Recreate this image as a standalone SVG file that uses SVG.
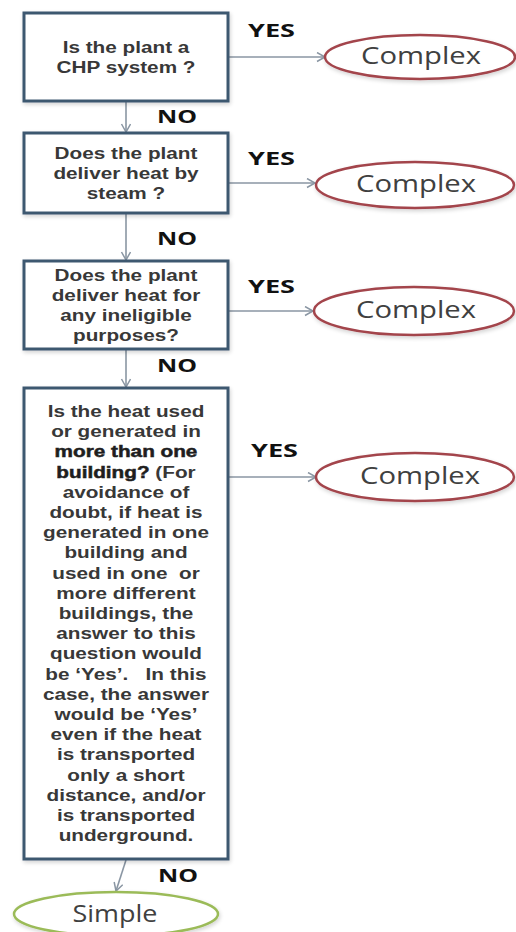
<svg xmlns="http://www.w3.org/2000/svg" width="516" height="932" viewBox="0 0 516 932">
<defs>
<style>
.box{fill:#ffffff;stroke:#3e5870;stroke-width:3}
.cx{fill:#ffffff;stroke:#a3444c;stroke-width:2.5}
.sm{fill:#ffffff;stroke:#9bbb59;stroke-width:2.5}
.q{font-family:"Liberation Sans",Arial,sans-serif;font-weight:700;font-size:17px;fill:#383838;text-anchor:middle}
.qb{fill:#1e1e1e;stroke:#1e1e1e;stroke-width:0.5}
.lbl{font-family:"Open Sans","Liberation Sans",sans-serif;font-weight:700;font-size:18px;fill:#111111}
.term{font-family:"Open Sans","Liberation Sans",sans-serif;font-weight:400;font-size:23px;fill:#404040;text-anchor:middle}
.conn{stroke:#8a96a3;stroke-width:1.6;fill:none}
</style>
<marker id="arr" markerWidth="12" markerHeight="12" refX="9" refY="5" orient="auto" markerUnits="userSpaceOnUse">
<path d="M1,0.5 L9,5 L1,9.5" fill="none" stroke="#8a96a3" stroke-width="1.5"/>
</marker>
<filter id="sh" x="-10%" y="-20%" width="125%" height="150%">
<feGaussianBlur in="SourceAlpha" stdDeviation="2"/>
<feOffset dx="1" dy="2"/>
<feComponentTransfer><feFuncA type="linear" slope="0.18"/></feComponentTransfer>
<feMerge><feMergeNode/><feMergeNode in="SourceGraphic"/></feMerge>
</filter>
</defs>
<rect width="516" height="932" fill="#ffffff"/>

<g id="connectors">
<line class="conn" x1="126" y1="102" x2="126" y2="132" marker-end="url(#arr)"/>
<line class="conn" x1="126" y1="214" x2="126" y2="260" marker-end="url(#arr)"/>
<line class="conn" x1="126" y1="350" x2="126" y2="387" marker-end="url(#arr)"/>
<line class="conn" x1="126" y1="860" x2="116" y2="891" marker-end="url(#arr)"/>
<line class="conn" x1="229" y1="57" x2="325" y2="57" marker-end="url(#arr)"/>
<line class="conn" x1="229" y1="183" x2="315" y2="183" marker-end="url(#arr)"/>
<line class="conn" x1="229" y1="311" x2="313" y2="311" marker-end="url(#arr)"/>
<line class="conn" x1="229" y1="477" x2="316" y2="477" marker-end="url(#arr)"/>
<text class="lbl" x="248" y="37" textLength="47" lengthAdjust="spacingAndGlyphs">YES</text>
<text class="lbl" x="248" y="165" textLength="47" lengthAdjust="spacingAndGlyphs">YES</text>
<text class="lbl" x="248" y="293" textLength="47" lengthAdjust="spacingAndGlyphs">YES</text>
<text class="lbl" x="251" y="457" textLength="47" lengthAdjust="spacingAndGlyphs">YES</text>
<text class="lbl" x="157" y="123" textLength="40" lengthAdjust="spacingAndGlyphs">NO</text>
<text class="lbl" x="157" y="245" textLength="40" lengthAdjust="spacingAndGlyphs">NO</text>
<text class="lbl" x="157" y="372" textLength="40" lengthAdjust="spacingAndGlyphs">NO</text>
<text class="lbl" x="158" y="882" textLength="40" lengthAdjust="spacingAndGlyphs">NO</text>
</g>

<g id="q1">
<rect class="box" x="24" y="13" width="204" height="88" filter="url(#sh)"/>
<g transform="translate(126,0) scale(1.22,1)">
<text class="q" x="0" y="53">Is the plant a</text>
<text class="q" x="0" y="73">CHP system ?</text>
</g>
</g>

<g id="q2">
<rect class="box" x="24" y="133" width="204" height="80" filter="url(#sh)"/>
<g transform="translate(126,0) scale(1.22,1)">
<text class="q" x="0" y="159">Does the plant</text>
<text class="q" x="0" y="179">deliver heat by</text>
<text class="q" x="0" y="199">steam ?</text>
</g>
</g>

<g id="q3">
<rect class="box" x="24" y="261" width="204" height="88" filter="url(#sh)"/>
<g transform="translate(126,0) scale(1.22,1)">
<text class="q" x="0" y="281">Does the plant</text>
<text class="q" x="0" y="301">deliver heat for</text>
<text class="q" x="0" y="321">any ineligible</text>
<text class="q" x="0" y="341">purposes?</text>
</g>
</g>

<g id="q4">
<rect class="box" x="24" y="388" width="204" height="471" filter="url(#sh)"/>
<g transform="translate(126,0) scale(1.22,1)">
<text class="q" x="0" y="417">Is the heat used</text>
<text class="q" x="0" y="437.2">or generated in</text>
<text class="q qb" x="0" y="457.4">more than one</text>
<text class="q" x="0" y="477.6"><tspan class="qb">building?</tspan> (For</text>
<text class="q" x="0" y="497.8">avoidance of</text>
<text class="q" x="0" y="518">doubt, if heat is</text>
<text class="q" x="0" y="538.2">generated in one</text>
<text class="q" x="0" y="558.4">building and</text>
<text class="q" x="0" y="578.6" xml:space="preserve">used in one  or</text>
<text class="q" x="0" y="598.8">more different</text>
<text class="q" x="0" y="619">buildings, the</text>
<text class="q" x="0" y="639.2">answer to this</text>
<text class="q" x="0" y="659.4">question would</text>
<text class="q" x="0" y="679.6" xml:space="preserve">be ‘Yes’.   In this</text>
<text class="q" x="0" y="699.8">case, the answer</text>
<text class="q" x="0" y="720">would be ‘Yes’</text>
<text class="q" x="0" y="740.2">even if the heat</text>
<text class="q" x="0" y="760.4">is transported</text>
<text class="q" x="0" y="780.6">only a short</text>
<text class="q" x="0" y="800.8">distance, and/or</text>
<text class="q" x="0" y="821">is transported</text>
<text class="q" x="0" y="841.2">underground.</text>
</g>
</g>

<g id="c1">
<ellipse class="cx" cx="420" cy="57" rx="95" ry="22" filter="url(#sh)"/>
<text class="term" x="421" y="64" textLength="120" lengthAdjust="spacingAndGlyphs">Complex</text>
</g>
<g id="c2">
<ellipse class="cx" cx="415" cy="185" rx="99" ry="23" filter="url(#sh)"/>
<text class="term" x="416" y="192" textLength="120" lengthAdjust="spacingAndGlyphs">Complex</text>
</g>
<g id="c3">
<ellipse class="cx" cx="414" cy="311" rx="100" ry="24" filter="url(#sh)"/>
<text class="term" x="416" y="318" textLength="120" lengthAdjust="spacingAndGlyphs">Complex</text>
</g>
<g id="c4">
<ellipse class="cx" cx="415" cy="477" rx="99" ry="24" filter="url(#sh)"/>
<text class="term" x="420" y="484" textLength="120" lengthAdjust="spacingAndGlyphs">Complex</text>
</g>
<g id="simple">
<ellipse class="sm" cx="116" cy="914" rx="102" ry="22" filter="url(#sh)"/>
<text class="term" x="115" y="922" textLength="85" lengthAdjust="spacingAndGlyphs">Simple</text>
</g>
</svg>
